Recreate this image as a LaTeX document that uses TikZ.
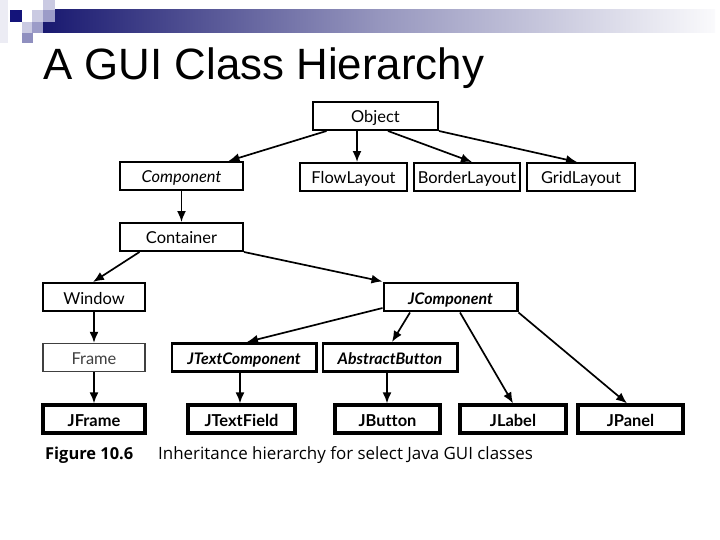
\documentclass[tikz,border=0pt]{standalone}
\usepackage{fontspec}
\setmainfont{Liberation Sans}
\newfontfamily\bookfont{Open Sans}
\newfontfamily\boxfont[Ligatures=NoCommon]{Lato}
\usepackage{xcolor}
\usetikzlibrary{arrows.meta, positioning}

\definecolor{barnavy}{RGB}{25,25,112}
\definecolor{barmid}{RGB}{150,150,190}
\definecolor{barend}{RGB}{250,250,252}
\definecolor{sqdark}{RGB}{20,20,122}
\definecolor{sqmid}{RGB}{156,156,200}
\definecolor{sqlight}{RGB}{202,202,226}
\definecolor{sqfaint}{RGB}{236,236,244}

\begin{document}
\begin{tikzpicture}[x=1bp, y=-1bp, >={Latex[length=11bp,width=9bp]},
    cls/.style={draw, line width=2pt, minimum height=28bp, inner sep=0pt,
        text height=14bp, text depth=0bp, font=\boxfont\fontsize{16.5}{19}\selectfont},
    abscls/.style={cls, line width=3pt, font=\boxfont\fontsize{16}{19}\selectfont\bfseries\itshape},
    leafcls/.style={cls, line width=3.3pt, font=\boxfont\fontsize{16.5}{19}\selectfont\bfseries},
    arr/.style={->, line width=1.7pt}]
    \useasboundingbox (0,0) rectangle (720,540);

    % Kopfleiste
    \fill[sqfaint] (0,0) rectangle (8,43);
    \shade[left color=barnavy, right color=barend, middle color=barmid] (43,10) rectangle (715,33);
    \fill[sqdark] (10,10) rectangle (22,22);
    \fill[sqlight] (32,10) rectangle (43,22);
    \fill[sqlight] (43,0) rectangle (55,10);
    \fill[sqmid] (43,10) rectangle (55,22);
    \fill[sqlight] (22,22) rectangle (32,33);
    \fill[sqmid] (32,22) rectangle (43,33);
    \fill[sqmid!90!barnavy] (22,33) rectangle (33,43);

    % Titel
    \node[anchor=base west, font=\fontsize{44}{50}\selectfont, inner sep=0pt] (title) at (43,80) {A GUI Class Hierarchy};

    % Klassen
    \node[cls, minimum width=125bp] (Object) at (375.5,116) {Object};
    \node[cls, minimum width=123bp, font=\boxfont\fontsize{16.5}{19}\selectfont\itshape] (Component) at (181.5,176) {Component};
    \node[cls, minimum width=107bp] (FlowLayout) at (353.5,177) {FlowLayout};
    \node[cls, minimum width=106bp] (BorderLayout) at (467,177) {BorderLayout};
    \node[cls, minimum width=108bp] (GridLayout) at (581,177) {GridLayout};
    \node[cls, minimum width=123bp] (Container) at (181.5,237) {Container};
    \node[cls, minimum width=102bp] (Window) at (94,297) {Window};
    \node[abscls, minimum width=133bp] (JComponent) at (450.5,297) {JComponent};
    \node[cls, minimum width=102bp, line width=1.3pt, draw=black!75, text=black!75] (Frame) at (94,357.5) {Frame};
    \node[abscls, minimum width=144bp] (JTextComponent) at (244,357.5) {JTextComponent};
    \node[abscls, minimum width=134bp] (AbstractButton) at (390,357.5) {AbstractButton};
    \node[leafcls, minimum width=102bp] (JFrame) at (94,419) {JFrame};
    \node[leafcls, minimum width=107bp] (JTextField) at (241.5,419) {JTextField};
    \node[leafcls, minimum width=105bp] (JButton) at (387.5,419) {JButton};
    \node[leafcls, minimum width=106bp] (JLabel) at (513,419) {JLabel};
    \node[leafcls, minimum width=105bp] (JPanel) at (630.5,419) {JPanel};

    % Vererbung
    \draw[arr] ([xshift=-49bp]Object.south) -- ([xshift=47bp]Component.north);
    \draw[arr] ([xshift=-18.5bp]Object.south) -- ([xshift=3.5bp]FlowLayout.north);
    \draw[arr] ([xshift=12.5bp]Object.south) -- ([xshift=5bp]BorderLayout.north);
    \draw[arr] (Object.south east) -- ([xshift=-4bp]GridLayout.north);
    \draw[arr] (Component) -- (Container);
    \draw[arr] ([xshift=-42bp]Container.south) -- ([xshift=-1bp]Window.north);
    \draw[arr] (Container.south east) -- (JComponent.north west);
    \draw[arr] (Window) -- (Frame);
    \draw[arr] (Frame) -- (JFrame);
    \draw[arr] ([yshift=-11bp]JComponent.west) -- ([xshift=3bp]JTextComponent.north);
    \draw[arr] ([xshift=-40.5bp]JComponent.south) -- ([xshift=2bp]AbstractButton.north);
    \draw[arr] ([xshift=9.5bp]JComponent.south) -- (JLabel.north);
    \draw[arr] (JComponent.south east) -- ([xshift=-3.5bp]JPanel.north);
    \draw[arr] ([xshift=-4bp]JTextComponent.south) -- ([xshift=-1.5bp]JTextField.north);
    \draw[arr] ([xshift=-3bp]AbstractButton.south) -- ([xshift=-0.5bp]JButton.north);

    % Bildunterschrift
    \node[anchor=base west, inner sep=0pt, font=\bookfont\fontsize{16.5}{19}\selectfont\bfseries] (fignum) at (45,459) {Figure 10.6};
    \node[anchor=base west, inner sep=0pt, font=\bookfont\fontsize{17}{20}\selectfont] (figcap) at (158,459) {Inheritance hierarchy for select Java GUI classes};
\end{tikzpicture}
\end{document}
